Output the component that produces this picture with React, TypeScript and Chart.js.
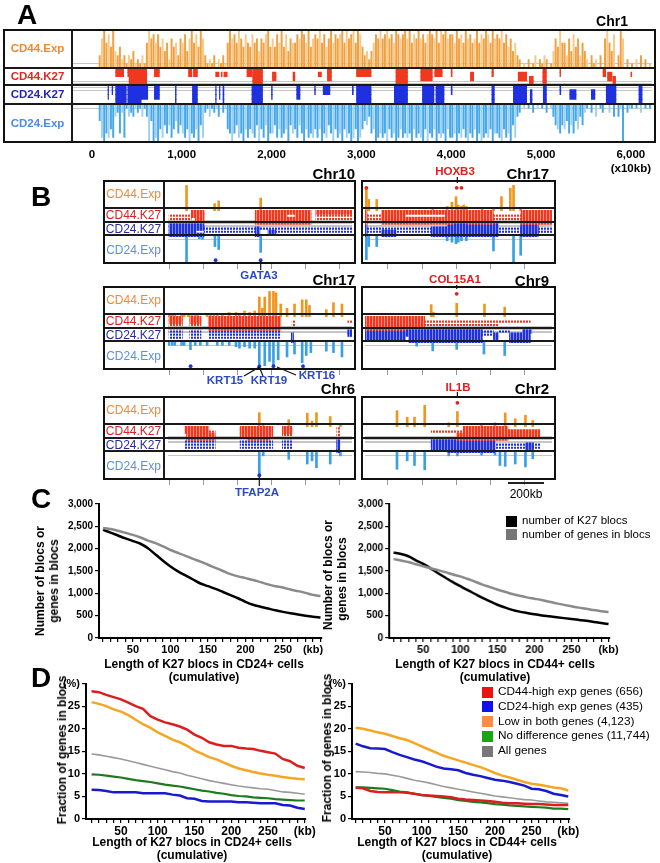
import React, { useEffect, useRef } from "react";
import { Chart, registerables } from "chart.js";

Chart.register(...registerables);

const FONT = '"Liberation Sans", Arial, Helvetica, sans-serif';

// ---------------- Panel A (genome coordinate in x10kb) ----------------
const A_BIN_STEP = 25;
const A_CD44_EXP = [
  "0003796859", "4352313241", "2131697868", "5746275637", "6847968597",
  "3121302131", "6978697586", "5867476895", "7586958476", "6879869578",
  "7968579687", "8969789698", "5342468797", "8978698789", "7968797868",
  "9879698978", "8697869786", "7968798697", "8796857463", "2010201302",
  "1320147596", "6374857364", "2031203079", "6480397020", "1020302010",
];
const A_CD24_EXP = [
  "0004897868", "3272813231", "2131394989", "6857586475", "7869786958",
  "2131213021", "6797587968", "6785968597", "7586876957", "6857968786",
  "8697857968", "7968798698", "6453769878", "7968798687", "8796878969",
  "7869787968", "8797868978", "6979878697", "7896879583", "2010102010",
  "1020135675", "6475746352", "1020301200", "2030319021", "1010201010",
];
// [start, end, firstLevel, lastLevel]
const A_CD44_K27 = [
  [265, 354, 0, 1], [400, 415, 0, 1], [415, 611, 0, 3], [696, 752, 0, 1], [1076, 1113, 0, 1],
  [1131, 1175, 0, 1], [1378, 1415, 1, 1], [1440, 1450, 1, 1], [1470, 1507, 1, 1], [1727, 1782, 0, 1],
  [1790, 1900, 0, 3], [2010, 2050, 1, 2], [2240, 2260, 1, 2], [2520, 2556, 1, 1], [2622, 2667, 0, 2],
  [2946, 3108, 0, 1], [3385, 3514, 0, 3], [3661, 3790, 0, 2], [3816, 3900, 0, 1], [4000, 4010, 0, 1],
  [4214, 4250, 1, 2], [4453, 4470, 0, 1], [4746, 4840, 1, 2], [4870, 4914, 2, 3], [5020, 5060, 0, 3],
  [5210, 5218, 0, 1], [5690, 5720, 0, 1], [5740, 5790, 1, 2], [5800, 5830, 2, 3], [6000, 6010, 1, 1],
];
const A_CD24_K27 = [
  [180, 186, 0, 2], [225, 232, 0, 1], [265, 383, 0, 3], [400, 549, 0, 3], [549, 622, 0, 2],
  [696, 752, 0, 2], [930, 938, 0, 3], [1120, 1175, 0, 3], [1378, 1384, 0, 3], [1420, 1426, 0, 2],
  [1460, 1470, 0, 3], [1782, 1900, 0, 3], [2000, 2008, 0, 2], [2280, 2317, 0, 2], [2480, 2488, 0, 1],
  [2575, 2650, 0, 1], [2900, 2910, 0, 1], [2946, 3108, 0, 3], [3367, 3514, 0, 3], [3680, 3808, 0, 3],
  [3830, 3920, 0, 3], [4000, 4010, 0, 1], [4453, 4480, 0, 3], [4692, 4840, 0, 3], [4880, 4900, 1, 3],
  [5025, 5060, 0, 3], [5210, 5220, 0, 1], [5320, 5390, 1, 2], [5560, 5600, 1, 2], [5726, 5834, 0, 3],
  [6090, 6125, 0, 3],
];
const A_TICKS = [0, 1000, 2000, 3000, 4000, 5000, 6000];
const A_TICK_TEXT: (string | string[])[] = ["0", "1,000", "2,000", "3,000", "4,000", "5,000", ["6,000", "(x10kb)"]];

// ---------------- Panel B (kb within window) ----------------
const B_LEFT_TICKS = [11, 211, 411, 611, 811, 1011];
const B_RIGHT_TICKS = [135, 335, 535, 735, 935];

// Chr10 / GATA3
const B1_EXP44 = [[109, 9], [274, 2.5], [298, 3.5], [545, 4.5]];
const B1_EXP24 = [[109, 9], [184, 0.8], [203, 1], [276, 3.5], [298, 4.5], [545, 5.5]];
const B1_K44 = [[137, 212, 0, 1], [160, 212, 2, 2], [513, 841, 0, 0], [513, 700, 1, 1], [747, 841, 1, 1], [513, 841, 2, 3], [869, 1082, 0, 0]];
const B1_D44 = [[6, 137, 1], [6, 137, 2], [869, 1082, 1], [869, 1082, 2]];
const B1_K24 = [[6, 165, 0, 3], [165, 212, 0, 1], [165, 212, 3, 3], [513, 540, 1, 3], [588, 635, 2, 2]];
const B1_D24 = [[212, 513, 1], [212, 513, 2], [540, 1082, 1], [635, 1082, 2]];
const B1_G24 = [280, 545];

// Chr17 / HOXB3
const B2_EXP44 = [[8, 8], [22, 4], [69, 4], [398, 1], [483, 1.5], [511, 3], [535, 5], [548, 2], [567, 1.5], [580, 2], [595, 1.5], [689, 1], [755, 1], [802, 5], [854, 8], [873, 9], [915, 1]];
const B2_EXP24 = [[8, 8], [22, 3.5], [69, 3.5], [483, 1.5], [511, 2], [535, 2.5], [548, 2], [567, 1.5], [595, 1.5], [755, 5], [873, 9], [915, 6.5]];
const B2_K44 = [[0, 12, 0, 3], [98, 754, 0, 0], [98, 238, 1, 1], [473, 754, 1, 1], [98, 754, 2, 2], [98, 520, 3, 3], [600, 754, 3, 3], [917, 1099, 0, 3]];
const B2_D44 = [[12, 98, 1], [12, 98, 2], [754, 917, 1], [754, 917, 2]];
const B2_K24 = [[0, 12, 0, 3], [98, 182, 2, 3], [389, 483, 1, 3], [483, 783, 0, 3], [915, 1018, 0, 3]];
const B2_D24 = [[12, 389, 1], [12, 389, 2], [783, 915, 1], [783, 915, 2], [1018, 1099, 1], [1018, 1099, 2]];
const B2_G44 = [8, 539, 567];

// Chr17 / KRT
const B3_EXP44 = [[6, 1], [15, 1], [25, 1], [40, 1], [80, 1], [95, 1], [120, 1], [140, 1], [160, 1], [175, 1], [230, 1], [250, 1], [270, 1], [290, 1], [320, 1], [360, 1.5], [400, 1.5], [420, 1], [450, 2], [480, 1.5], [510, 2], [537, 7], [555, 3], [569, 7], [597, 9], [620, 9], [635, 8.5], [663, 4.5], [700, 3], [744, 4.5], [789, 6], [813, 6], [832, 4], [931, 2.5], [973, 5], [1023, 4.5]];
const B3_EXP24 = [[6, 1], [25, 1], [40, 1], [80, 1], [95, 1], [132, 2.5], [160, 1], [190, 1], [230, 1], [290, 1], [320, 1], [360, 1], [400, 1.5], [420, 2], [450, 1.5], [480, 2], [510, 2], [537, 7.5], [569, 8], [597, 6.5], [620, 8], [648, 6], [700, 5], [744, 4], [789, 7], [813, 4.5], [840, 3.5], [931, 3], [973, 3.5], [1023, 5]];
const B3_K44 = [[6, 85, 0, 1], [128, 194, 0, 1], [237, 663, 0, 3]];
const B3_D44 = [[6, 85, 2], [6, 85, 3], [128, 194, 2], [128, 194, 3], [730, 745, 1], [730, 745, 2], [1057, 1082, 1]];
const B3_K24 = [[725, 738, 1, 3], [1057, 1082, 0, 1]];
const B3_D24 = [[6, 85, 0], [6, 85, 1], [6, 85, 2], [128, 194, 0], [128, 194, 1], [128, 194, 2], [237, 663, 0], [237, 663, 1], [237, 663, 2]];
const B3_G24 = [133, 537, 620, 794];

// Chr9 / COL15A1
const B4_EXP44 = [[389, 4.3], [402, 1.6], [539, 4.8], [702, 4.5], [821, 3.4]];
const B4_EXP24 = [[304, 1.3], [398, 2.9], [539, 2.4], [699, 4], [821, 4.5]];
const B4_K44 = [[0, 351, 0, 2], [0, 238, 3, 3]];
const B4_D44 = [[351, 971, 1], [351, 780, 2]];
const B4_K24 = [[0, 689, 0, 1], [0, 238, 2, 2], [257, 689, 2, 3], [755, 783, 1, 2], [849, 971, 1, 3], [925, 980, 0, 0]];
const B4_D24 = [[689, 755, 0], [689, 755, 1], [783, 849, 0]];
const B4_G44 = [539];

// Chr6 / TFAP2A
const B5_EXP44 = [[537, 5], [560, 0.9], [710, 2.5], [819, 4.8], [847, 2], [873, 5], [954, 3.6], [1014, 0.9]];
const B5_EXP24 = [[537, 7.6], [560, 1.2], [710, 2.4], [819, 4], [847, 2.9], [873, 5.3], [954, 4], [1014, 1.2]];
const B5_K44 = [[100, 240, 0, 1], [109, 278, 2, 3], [424, 616, 0, 2], [466, 597, 3, 3], [672, 729, 0, 1]];
const B5_D44 = [[240, 278, 1], [672, 729, 2], [672, 729, 3], [992, 1010, 0], [992, 1010, 1], [992, 1010, 2]];
const B5_K24 = [[992, 1010, 0, 3]];
const B5_D24 = [[100, 278, 0], [100, 278, 1], [100, 278, 2], [424, 616, 0], [424, 616, 1], [424, 616, 2], [672, 729, 0], [672, 729, 1], [672, 729, 2]];
const B5_G24 = [537];

// Chr2 / IL1B
const B6_EXP44 = [[188, 5.7], [248, 3.4], [291, 3.4], [351, 7.6], [492, 1.4], [543, 5.4], [685, 1.1], [764, 1.4], [824, 4.9], [883, 2.8], [943, 4.1], [986, 2.2]];
const B6_EXP24 = [[188, 5.8], [248, 2.9], [291, 4.5], [351, 6], [492, 1.2], [543, 1.2], [685, 0.9], [764, 0.9], [793, 4.5], [824, 4.8], [883, 4], [943, 5], [986, 2.2]];
const B6_K44 = [[577, 840, 0, 3], [539, 577, 2, 3], [840, 1027, 1, 2]];
const B6_D44 = [[389, 577, 1]];
const B6_K24 = [[389, 764, 0, 2], [483, 764, 3, 3], [943, 990, 1, 2]];
const B6_D24 = [[764, 943, 1], [764, 1027, 2], [990, 1027, 1]];
const B6_G44 = [543];

// ---------------- Panels C & D ----------------
const KB = [10, 20, 30, 40, 50, 60, 70, 80, 90, 100, 110, 120, 130, 140, 150, 160, 170, 180, 190, 200, 210, 220, 230, 240, 250, 260, 270, 280, 290, 300];
const X_NUM_LABELS = [50, 100, 150, 200, 250];
const C_Y_TICKS = [0, 500, 1000, 1500, 2000, 2500, 3000];
const C_Y_TEXT = ["0", "500", "1,000", "1,500", "2,000", "2,500", "3,000"];
const D_Y_TICKS = [0, 5, 10, 15, 20, 25, 30];
const D_Y_TEXT = ["0", "5", "10", "15", "20", "25", "(%)"];

const C_L_BLOCS = [2420, 2360, 2295, 2230, 2170, 2110, 2010, 1870, 1730, 1600, 1490, 1400, 1310, 1220, 1160, 1100, 1030, 960, 890, 810, 745, 700, 660, 620, 585, 553, 525, 500, 478, 460];
const C_L_GENES = [2465, 2440, 2400, 2355, 2308, 2250, 2180, 2125, 2050, 1970, 1905, 1840, 1770, 1710, 1640, 1570, 1500, 1430, 1380, 1340, 1300, 1250, 1200, 1160, 1130, 1085, 1050, 1010, 965, 940];
const C_R_BLOCS = [1915, 1880, 1830, 1740, 1660, 1560, 1450, 1350, 1250, 1160, 1070, 985, 900, 820, 745, 685, 630, 590, 560, 530, 505, 485, 465, 445, 425, 405, 385, 360, 335, 313];
const C_R_GENES = [1768, 1735, 1700, 1650, 1605, 1560, 1520, 1475, 1420, 1380, 1320, 1260, 1195, 1140, 1085, 1035, 985, 945, 910, 880, 850, 810, 775, 742, 710, 680, 655, 625, 600, 580];

const D_L_RED = [28.3, 28.1, 27.5, 27.0, 26.5, 25.8, 25.0, 24.4, 22.8, 22.0, 21.4, 21.0, 20.5, 19.8, 18.7, 18.0, 17.0, 16.5, 16.2, 16.2, 15.8, 15.6, 15.5, 15.1, 14.8, 14.5, 13.3, 12.8, 11.8, 11.3];
const D_L_BLUE = [6.5, 6.4, 6.2, 5.9, 5.9, 5.9, 5.9, 5.7, 5.7, 5.7, 5.7, 5.4, 5.2, 4.6, 4.5, 4.0, 3.9, 3.9, 3.9, 3.9, 3.7, 3.7, 3.6, 3.5, 3.5, 3.5, 3.1, 3.0, 2.5, 2.2];
const D_L_ORANGE = [25.9, 25.5, 25.0, 24.3, 23.8, 23.0, 22.0, 21.0, 20.2, 19.2, 18.4, 17.6, 17.0, 16.2, 15.2, 14.5, 13.7, 13.2, 12.5, 11.8, 11.2, 10.8, 10.4, 10.1, 9.8, 9.6, 9.3, 9.1, 8.9, 8.8];
const D_L_GREEN = [9.9, 9.8, 9.6, 9.4, 9.2, 8.9, 8.6, 8.4, 8.2, 7.9, 7.6, 7.4, 7.2, 6.9, 6.6, 6.3, 6.1, 5.8, 5.6, 5.3, 5.1, 5.0, 4.8, 4.7, 4.6, 4.4, 4.3, 4.2, 4.1, 4.1];
const D_L_ALL = [14.4, 14.2, 13.9, 13.6, 13.3, 12.9, 12.5, 12.1, 11.7, 11.3, 10.9, 10.5, 10.2, 9.7, 9.3, 8.9, 8.5, 8.2, 7.9, 7.6, 7.3, 7.1, 6.9, 6.7, 6.6, 6.3, 6.0, 5.9, 5.7, 5.5];

const D_R_RED = [6.9, 6.8, 6.2, 6.0, 5.9, 5.9, 5.9, 5.8, 5.6, 5.3, 5.2, 5.1, 5.0, 4.8, 4.5, 4.3, 4.2, 4.1, 4.0, 3.8, 3.6, 3.5, 3.5, 3.4, 3.3, 3.3, 3.2, 3.1, 3.1, 3.1];
const D_R_BLUE = [16.7, 16.1, 15.7, 15.6, 15.5, 14.8, 14.2, 13.7, 13.2, 12.8, 12.2, 11.6, 11.2, 11.0, 10.8, 10.2, 9.8, 9.5, 9.1, 8.7, 8.5, 8.2, 7.8, 7.4, 6.7, 6.6, 6.2, 5.6, 5.3, 5.0];
const D_R_ORANGE = [20.2, 20.0, 19.6, 19.2, 18.9, 18.4, 17.9, 17.5, 16.8, 16.1, 15.4, 14.7, 14.0, 13.5, 13.0, 12.5, 12.0, 11.5, 10.9, 10.2, 9.6, 9.2, 8.7, 8.2, 7.8, 7.6, 7.3, 7.0, 6.8, 6.3];
const D_R_GREEN = [7.0, 7.0, 6.9, 6.8, 6.7, 6.4, 6.1, 5.9, 5.6, 5.3, 5.1, 4.9, 4.7, 4.5, 4.2, 4.0, 3.8, 3.7, 3.5, 3.3, 3.2, 3.0, 2.9, 2.8, 2.7, 2.6, 2.5, 2.3, 2.3, 2.2];
const D_R_ALL = [10.5, 10.4, 10.3, 10.1, 10.0, 9.7, 9.4, 9.0, 8.6, 8.3, 8.0, 7.6, 7.2, 6.9, 6.6, 6.3, 6.0, 5.7, 5.4, 5.1, 4.9, 4.7, 4.5, 4.3, 4.2, 4.0, 3.8, 3.7, 3.6, 3.5];

const D_LEGEND = ["CD44-high exp genes (656)", "CD24-high exp genes (435)", "Low in both genes (4,123)", "No difference genes (11,744)", "All genes"];
const C_LEGEND = ["number of K27 blocs", "number of genes in blocs"];

// ---------------- styles ----------------
const ROW_LABELS = ["CD44.Exp", "CD44.K27", "CD24.K27", "CD24.Exp"];
const ROW_COLORS_A = ["#f08a30", "#e8251e", "#2424b8", "#4a8ae8"];
const ROW_COLORS_B = ["#ef8a3c", "#e02020", "#2a2aa6", "#5b8fe6"];
const RED = "#f0381f";
const RED_LIGHT = "#f7907f";
const BLUE = "#1e30e0";
const BLUE_LIGHT = "#7f8af0";
const ORANGE = "#f0961e";
const ORANGE_LIGHT = "#f7c98a";
const SKY = "#3aa0e6";
const SKY_LIGHT = "#9fd0f3";

const toBins = (segs: string[]) =>
  segs.join("").split("").map(Number)
    .map((v, i) => [i * A_BIN_STEP + A_BIN_STEP / 2, v])
    .filter((p) => p[1] > 0);

type TrackCfg = any;

function Txt(p: any) {
  const { x, y, t, size = 12, bold = false, color = "#000", align = "center", rot = 0 } = p;
  const tx = align === "left" ? "0%" : align === "right" ? "-100%" : "-50%";
  return (
    <div
      style={{
        position: "absolute", left: x, top: y,
        transform: `translate(${tx}, -50%)` + (rot ? ` rotate(${rot}deg)` : ""),
        fontFamily: FONT, fontSize: size, fontWeight: bold ? 700 : 400, color,
        whiteSpace: "nowrap", lineHeight: 1,
      }}
    >
      {t}
    </div>
  );
}

function TrackPanel({ c }: { c: TrackCfg }) {
  const ref = useRef<HTMLCanvasElement>(null);
  const plotW = c.w - c.labelW;
  const H = c.h;
  const [r0, r1, r2, r3] = c.rows;
  const e24Top = r3;
  const k24Top = r3 + r2;
  const k44Top = r3 + r2 + r1;
  const canvasH = H + c.axisH;

  useEffect(() => {
    const cv = ref.current!;
    const ctx = cv.getContext("2d")!;
    const mk = (w: number, h: number, draw: (g: CanvasRenderingContext2D) => void) => {
      const p = document.createElement("canvas");
      p.width = w; p.height = h;
      draw(p.getContext("2d")!);
      return ctx.createPattern(p, "repeat")!;
    };
    const dotted = (col: string) => mk(3, 4, (g) => { g.fillStyle = col; g.fillRect(0, 0, 2, 4); });
    const hatch = (col: string, light: string) =>
      mk(3, 4, (g) => { g.fillStyle = col; g.fillRect(0, 0, 3, 4); g.fillStyle = light; g.fillRect(2, 0, 1, 4); });

    const lh44 = r1 / 4;
    const lh24 = r2 / 4;
    const lvl = (top: number, lh: number, l: number) => top - (l + 0.5) * lh;
    const datasets: any[] = [];
    datasets.push({
      type: "scatter", data: c.g24.map((g: number) => ({ x: g, y: c.dotBottom })),
      pointRadius: 1.9, pointBackgroundColor: "#2233cc", pointBorderWidth: 0, clip: false,
    });
    datasets.push({
      type: "scatter", data: c.g44.map((g: number) => ({ x: g, y: H - c.dotTop })),
      pointRadius: 1.9, pointBackgroundColor: "#e82020", pointBorderWidth: 0, clip: false,
    });
    const blocks = (bl: number[][], dl: number[][], top: number, lh: number, col: string, light: string) => {
      for (let l = 0; l < 4; l++) {
        const data = bl.filter((b) => b[2] <= l && l <= b[3]).map((b) => ({ x: [b[0], b[1]], y: lvl(top, lh, l) }));
        if (data.length)
          datasets.push({
            type: "bar", indexAxis: "y", data, barThickness: lh + 0.5, grouped: false, borderWidth: 0,
            backgroundColor: c.dense ? col : hatch(col, light),
          });
      }
      const dd = dl.map((d) => ({ x: [d[0], d[1]], y: lvl(top, lh, d[2]) }));
      if (dd.length)
        datasets.push({ type: "bar", indexAxis: "y", data: dd, barThickness: 1.5, grouped: false, borderWidth: 0, backgroundColor: dotted(col) });
    };
    blocks(c.k44, c.d44, k44Top, lh44, RED, RED_LIGHT);
    blocks(c.k24, c.d24, k24Top, lh24, BLUE, BLUE_LIGHT);
    const amp44 = r0 - 1.5;
    const amp24 = r3 - 1.5;
    datasets.push({
      type: "bar", grouped: false, barThickness: c.barW, borderWidth: 0,
      data: c.exp44.map((p: number[]) => ({ x: p[0], y: [k44Top, k44Top + (p[1] / 9) * amp44] })),
      backgroundColor: c.dense ? (cx: any) => (cx.dataIndex % 3 === 1 ? ORANGE_LIGHT : "#f0a040") : ORANGE,
    });
    datasets.push({
      type: "bar", grouped: false, barThickness: c.barW, borderWidth: 0,
      data: c.exp24.map((p: number[]) => ({ x: p[0], y: [e24Top - (p[1] / 9) * amp24, e24Top] })),
      backgroundColor: c.dense ? (cx: any) => (cx.dataIndex % 3 === 1 ? SKY_LIGHT : "#45a8ea") : SKY,
    });
    const sub: number[] = [];
    for (let l = 1; l < 4; l++) { sub.push(k44Top - l * lh44); sub.push(k24Top - l * lh24); }

    const chart = new Chart(cv, {
      type: "bar",
      data: { datasets },
      options: {
        animation: false, responsive: false, maintainAspectRatio: false, events: [],
        layout: { padding: 0 },
        plugins: { legend: { display: false }, tooltip: { enabled: false } },
        scales: {
          x: {
            type: "linear", min: c.xMin, max: c.xMax, offset: false, position: "bottom",
            afterBuildTicks: (s: any) => { s.ticks = c.ticks.map((v: number) => ({ value: v })); },
            afterFit: (s: any) => { s.height = c.axisH; },
            border: { display: false },
            grid: { display: !c.tickText, offset: false, drawOnChartArea: false, drawTicks: !c.tickText, tickLength: 5, color: "#999", lineWidth: 1 },
            ticks: {
              display: !!c.tickText, autoSkip: false, maxRotation: 0, padding: 5, color: "#000",
              font: { family: FONT, size: 11.5, weight: "bold" },
              callback: (_v: any, i: number) => (c.tickText ? c.tickText[i] : ""),
            },
          },
          y: {
            type: "linear", min: 0, max: H, offset: false,
            afterBuildTicks: (s: any) => { s.ticks = sub.map((v) => ({ value: v })); },
            afterFit: (s: any) => { s.width = 0; },
            border: { display: false },
            grid: { color: "#c6c6c6", lineWidth: 1, drawTicks: false },
            ticks: { display: false },
          },
        },
      } as any,
    });
    return () => chart.destroy();
  }, []);

  const seps = [c.y + r0, c.y + r0 + r1, c.y + r0 + r1 + r2];
  const centers = [c.y + r0 / 2, c.y + r0 + r1 / 2, c.y + r0 + r1 + r2 / 2, c.y + r0 + r1 + r2 + r3 / 2];
  return (
    <>
      <div style={{ position: "absolute", left: c.x + c.labelW, top: c.y, width: plotW, height: canvasH }}>
        <canvas ref={ref} width={plotW} height={canvasH} style={{ display: "block", width: plotW, height: canvasH }} />
      </div>
      {seps.map((y, i) => (
        <div key={i} style={{ position: "absolute", left: c.x, top: y - 1, width: c.w, height: 2, background: "#1a1a1a" }} />
      ))}
      {c.labelW > 0 && (
        <div style={{ position: "absolute", left: c.x + c.labelW - 1, top: c.y, width: 2, height: H, background: "#1a1a1a" }} />
      )}
      <div style={{ position: "absolute", left: c.x, top: c.y, width: c.w, height: H, border: "2px solid #111", boxSizing: "border-box" }} />
      {c.labelW > 0 &&
        ROW_LABELS.map((t, i) => (
          <Txt key={t} x={c.x + c.labelW / 2} y={centers[i]} t={t} size={c.labelSize} bold={c.labelBold} color={c.labelColors[i]} />
        ))}
    </>
  );
}

function LineChart({ c }: { c: any }) {
  const ref = useRef<HTMLCanvasElement>(null);
  const cl = c.l - c.yW;
  const ct = c.t - c.padT;
  const cw = c.yW + (c.r - c.l) + c.padR;
  const ch = c.padT + (c.b - c.t) + c.xH;
  useEffect(() => {
    const xText = KB.map((v) => (X_NUM_LABELS.includes(v) ? String(v) : v === c.kbAt ? "(kb)" : ""));
    const chart = new Chart(ref.current!, {
      type: "line",
      data: {
        datasets: c.series.map((s: any) => ({
          data: KB.map((x, i) => ({ x, y: s.data[i] })),
          borderColor: s.color, borderWidth: s.width, pointRadius: 0, tension: s.tension,
          cubicInterpolationMode: s.tension ? "monotone" : "default", fill: false,
        })),
      },
      options: {
        animation: false, responsive: false, maintainAspectRatio: false, events: [],
        layout: { padding: { top: c.padT, right: c.padR, left: 0, bottom: 0 } },
        plugins: { legend: { display: false }, tooltip: { enabled: false } },
        scales: {
          x: {
            type: "linear", min: c.xMin, max: c.xMax,
            afterBuildTicks: (s: any) => { s.ticks = KB.map((v) => ({ value: v })); },
            afterFit: (s: any) => { s.height = c.xH; },
            border: { display: true, color: "#000", width: 2 },
            grid: { display: true, drawOnChartArea: false, drawTicks: true, tickLength: 4, color: "#000", lineWidth: 1.2 },
            ticks: {
              autoSkip: false, maxRotation: 0, padding: 1, color: "#000",
              font: { family: FONT, size: c.xFont, weight: "bold" },
              callback: (_v: any, i: number) => xText[i],
            },
          },
          y: {
            type: "linear", min: c.yMin, max: c.yMax,
            afterBuildTicks: (s: any) => { s.ticks = c.yTicks.map((v: number) => ({ value: v })); },
            afterFit: (s: any) => { s.width = c.yW; },
            border: { display: true, color: "#000", width: 2 },
            grid: { display: true, drawOnChartArea: false, drawTicks: true, tickLength: 4, color: "#000", lineWidth: 1.2 },
            ticks: {
              padding: 2, color: "#000",
              font: { family: FONT, size: c.yFont, weight: "bold" },
              callback: (_v: any, i: number) => c.yText[i],
            },
          },
        },
      } as any,
    });
    return () => chart.destroy();
  }, []);
  return (
    <div style={{ position: "absolute", left: cl, top: ct, width: cw, height: ch }}>
      <canvas ref={ref} width={cw} height={ch} style={{ display: "block", width: cw, height: ch }} />
    </div>
  );
}

function Legend({ x, y, step, items, colors, size }: any) {
  return (
    <>
      {items.map((t: string, i: number) => (
        <React.Fragment key={t}>
          <div style={{ position: "absolute", left: x, top: y + i * step - 5.5, width: 11, height: 11, background: colors[i] }} />
          <Txt x={x + 16} y={y + i * step} t={t} size={size} align="left" />
        </React.Fragment>
      ))}
    </>
  );
}

const bBase = { labelSize: 12, labelBold: false, labelColors: ROW_COLORS_B, rows: [28, 14, 13, 29], h: 84, axisH: 8, barW: 2, dense: false, tickText: null, dotTop: 4, dotBottom: 4 };

export default function App() {
  const aCfg = {
    x: 3, y: 29, w: 653, h: 114, labelW: 69, rows: [39, 17, 19, 39], xMin: -221, xMax: 6232,
    exp44: toBins(A_CD44_EXP), exp24: toBins(A_CD24_EXP), k44: A_CD44_K27, k24: A_CD24_K27,
    d44: [], d24: [], g44: [], g24: [], ticks: A_TICKS, tickText: A_TICK_TEXT, axisH: 40, barW: 1.3,
    dense: true, labelSize: 11.5, labelBold: true, labelColors: ROW_COLORS_A, dotTop: 4, dotBottom: 4,
  };
  const left = { labelW: 61, w: 253, x: 103, xMin: 0, xMax: 1082, ticks: B_LEFT_TICKS };
  const right = { labelW: 0, w: 195, x: 361, xMin: 0, xMax: 1099, ticks: B_RIGHT_TICKS };
  const panels = [
    { ...bBase, ...left, y: 180, exp44: B1_EXP44, exp24: B1_EXP24, k44: B1_K44, d44: B1_D44, k24: B1_K24, d24: B1_D24, g44: [], g24: B1_G24 },
    { ...bBase, ...right, y: 180, exp44: B2_EXP44, exp24: B2_EXP24, k44: B2_K44, d44: B2_D44, k24: B2_K24, d24: B2_D24, g44: B2_G44, g24: [] },
    { ...bBase, ...left, y: 286, exp44: B3_EXP44, exp24: B3_EXP24, k44: B3_K44, d44: B3_D44, k24: B3_K24, d24: B3_D24, g44: [], g24: B3_G24 },
    { ...bBase, ...right, y: 286, exp44: B4_EXP44, exp24: B4_EXP24, k44: B4_K44, d44: B4_D44, k24: B4_K24, d24: B4_D24, g44: B4_G44, g24: [] },
    { ...bBase, ...left, y: 396, exp44: B5_EXP44, exp24: B5_EXP24, k44: B5_K44, d44: B5_D44, k24: B5_K24, d24: B5_D24, g44: [], g24: B5_G24, dotBottom: 5 },
    { ...bBase, ...right, y: 396, exp44: B6_EXP44, exp24: B6_EXP24, k44: B6_K44, d44: B6_D44, k24: B6_K24, d24: B6_D24, g44: B6_G44, g24: [], dotTop: 3 },
  ];
  const cCommon = { yW: 45, xH: 24, padT: 8, padR: 14, yMin: 0, yMax: 3000, yTicks: C_Y_TICKS, yText: C_Y_TEXT, yFont: 10, xFont: 11 };
  const dCommon = { yW: 40, xH: 24, padT: 8, padR: 14, yMin: 0, yMax: 30, yTicks: D_Y_TICKS, yText: D_Y_TEXT, yFont: 11, xFont: 12, kbAt: 300 };
  const cLine = (a: number[], b: number[]) => [
    { data: b, color: "#8a8a8a", width: 2.5, tension: 0.3 },
    { data: a, color: "#000000", width: 2.5, tension: 0.3 },
  ];
  const dLine = (red: number[], blue: number[], orange: number[], green: number[], all: number[]) => [
    { data: red, color: "#d91f1f", width: 2.5, tension: 0 },
    { data: green, color: "#1e7a1e", width: 2.2, tension: 0 },
    { data: blue, color: "#1a1acd", width: 2.5, tension: 0 },
    { data: orange, color: "#f5a623", width: 2.5, tension: 0 },
    { data: all, color: "#9a9a9a", width: 1.6, tension: 0 },
  ];
  const blueTxt = "#2a48c8";
  const redTxt = "#e0201c";
  return (
    <div style={{ position: "absolute", left: 0, top: 0, width: 660, height: 863, background: "#fff", overflow: "hidden", fontFamily: FONT }}>
      {/* Panel A */}
      <TrackPanel c={aCfg} />
      <Txt x={27} y={15} t="A" size={28} bold />
      <Txt x={628} y={21} t="Chr1" size={14} bold align="right" />

      {/* Panel B */}
      {panels.map((p, i) => <TrackPanel key={i} c={p} />)}
      <Txt x={41} y={197} t="B" size={28} bold />
      <Txt x={355} y={173} t="Chr10" size={15} bold align="right" />
      <Txt x={455} y={172} t="HOXB3" size={11.5} bold color={redTxt} />
      <Txt x={549} y={173} t="Chr17" size={15} bold align="right" />
      <Txt x={259} y={276} t="GATA3" size={11.5} bold color={blueTxt} />
      <Txt x={355} y={279} t="Chr17" size={15} bold align="right" />
      <Txt x={455} y={280} t="COL15A1" size={11.5} bold color={redTxt} />
      <Txt x={549} y={280} t="Chr9" size={15} bold align="right" />
      <Txt x={225} y={381} t="KRT15" size={11.5} bold color={blueTxt} />
      <Txt x={269} y={381} t="KRT19" size={11.5} bold color={blueTxt} />
      <Txt x={317} y={376} t="KRT16" size={11.5} bold color={blueTxt} />
      <Txt x={355} y={388} t="Chr6" size={15} bold align="right" />
      <Txt x={458} y={388} t="IL1B" size={11.5} bold color={redTxt} />
      <Txt x={549} y={388} t="Chr2" size={15} bold align="right" />
      <Txt x={257} y={493} t="TFAP2A" size={11.5} bold color={blueTxt} />
      <Txt x={526} y={494} t="200kb" size={12} />
      <div style={{ position: "absolute", left: 508, top: 482, width: 36, height: 2, background: "#222" }} />
      <svg width={660} height={863} style={{ position: "absolute", left: 0, top: 0, pointerEvents: "none" }}>
        <g stroke="#111" strokeWidth={1.2}>
          <line x1={260.7} y1={261} x2={260.7} y2={270} />
          <line x1={457.3} y1={177} x2={457.3} y2={183} />
          <line x1={456.7} y1={285} x2={456.7} y2={289} />
          <line x1={457.4} y1={392} x2={457.4} y2={398} />
          <line x1={259.3} y1={367} x2={244} y2={376} />
          <line x1={259.3} y1={367} x2={263} y2={376} />
          <line x1={277} y1={367} x2={296} y2={375} />
          <line x1={259.3} y1={477} x2={259.3} y2={486} />
        </g>
      </svg>

      {/* Panel C */}
      <Txt x={41} y={499} t="C" size={28} bold />
      <LineChart c={{ ...cCommon, l: 99, t: 504, r: 322, b: 638, xMin: 4.7, xMax: 302, kbAt: 290, series: cLine(C_L_BLOCS, C_L_GENES) }} />
      <LineChart c={{ ...cCommon, l: 389, t: 504, r: 609.5, b: 638, xMin: 4, xMax: 302, kbAt: 300, series: cLine(C_R_BLOCS, C_R_GENES) }} />
      <Txt x={40} y={581} t="Number of blocs  or" size={12} bold rot={-90} />
      <Txt x={54} y={581} t="genes in blocs" size={12} bold rot={-90} />
      <Txt x={328} y={575} t="Number of blocs or" size={12} bold rot={-90} />
      <Txt x={342} y={579} t="genes in blocs" size={12} bold rot={-90} />
      <Txt x={204} y={664} t="Length of K27 blocs in CD24+ cells" size={12} bold />
      <Txt x={204} y={677} t="(cumulative)" size={12} bold />
      <Txt x={495} y={664} t="Length of K27 blocs in CD44+ cells" size={12} bold />
      <Txt x={495} y={677} t="(cumulative)" size={12} bold />
      <Legend x={506} y={521} step={13.5} items={C_LEGEND} colors={["#000", "#777"]} size={11.5} />

      {/* Panel D */}
      <Txt x={41} y={678} t="D" size={28} bold />
      <LineChart c={{ ...dCommon, l: 86, t: 683, r: 306, b: 819, xMin: 2.4, xMax: 301.7, series: dLine(D_L_RED, D_L_BLUE, D_L_ORANGE, D_L_GREEN, D_L_ALL) }} />
      <LineChart c={{ ...dCommon, l: 352, t: 683, r: 570, b: 819, xMin: 5, xMax: 302.4, series: dLine(D_R_RED, D_R_BLUE, D_R_ORANGE, D_R_GREEN, D_R_ALL) }} />
      <Txt x={62} y={750} t="Fraction of genes in blocs" size={12} bold rot={-90} />
      <Txt x={327} y={748} t="Fraction of genes in blocs" size={12} bold rot={-90} />
      <Txt x={192} y={842} t="Length of K27 blocs in CD24+ cells" size={12} bold />
      <Txt x={192} y={855} t="(cumulative)" size={12} bold />
      <Txt x={457} y={842} t="Length of K27 blocs in CD44+ cells" size={12} bold />
      <Txt x={457} y={855} t="(cumulative)" size={12} bold />
      <Legend x={482} y={692} step={14.8} items={D_LEGEND} colors={["#ee1111", "#1111ee", "#ff8a44", "#14a814", "#777777"]} size={11.8} />
    </div>
  );
}
